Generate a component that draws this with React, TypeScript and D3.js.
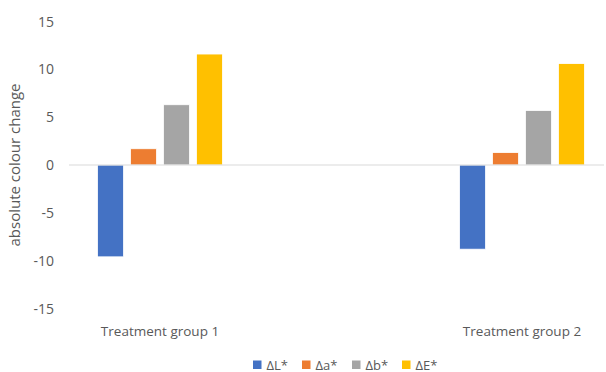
import React from "react";
import * as d3 from "d3";

const groups = ["Treatment group 1", "Treatment group 2"];
const series = ["ΔL*", "Δa*", "Δb*", "ΔE*"];
const colors = ["#4472C4", "#ED7D31", "#A5A5A5", "#FFC000"];
const group1Values = [-9.6, 1.7, 6.3, 11.6];
const group2Values = [-8.8, 1.3, 5.7, 10.6];
const yTicks = [15, 10, 5, 0, -5, -10, -15];

const W = 606;
const H = 372;
const FONT = "'Open Sans', sans-serif";
const TEXT = "#595959";

export default function App() {
  const values = [group1Values, group2Values];
  const y = d3.scaleLinear().domain([-15, 15]).range([308.5, 21.5]);
  const x0 = d3.scalePoint<string>().domain(groups).range([160, 522]);
  const x1 = d3.scaleBand<string>().domain(series).range([-62.5, 62.5]).paddingInner(0.21);
  const legendX = [253, 302, 352, 402];

  return (
    <div style={{ position: "absolute", left: 0, top: 0 }}>
      <svg width={W} height={H} style={{ display: "block", background: "#fff" }} fontFamily={FONT}>
        <rect width={W} height={H} fill="#fff" />
        {yTicks.map((t) => (
          <text key={t} x={54} y={y(t)} dy="0.36em" textAnchor="end" fontSize={14} fill={TEXT}>
            {t}
          </text>
        ))}
        <text
          transform={`translate(20,${y(0)}) rotate(-90)`}
          textAnchor="middle"
          fontSize={15}
          fill={TEXT}
        >
          absolute colour change
        </text>
        {groups.map((g, gi) =>
          series.map((s, si) => {
            const v = values[gi][si];
            const bx = (x0(g) as number) + (x1(s) as number);
            const top = Math.min(y(v), y(0));
            const h = Math.abs(y(v) - y(0));
            return (
              <rect
                key={g + s}
                x={bx}
                y={top}
                width={x1.bandwidth()}
                height={h}
                fill={colors[si]}
                stroke="#fff"
                strokeWidth={0.8}
              />
            );
          })
        )}
        <line x1={69} x2={604} y1={y(0)} y2={y(0)} stroke="#D9D9D9" strokeWidth={1} />
        {groups.map((g) => (
          <text key={g} x={x0(g) as number} y={336} textAnchor="middle" fontSize={13.5} fill={TEXT}>
            {g}
          </text>
        ))}
        {series.map((s, i) => (
          <g key={s} transform={`translate(${legendX[i]},0)`}>
            <rect x={0} y={360.5} width={8.5} height={8.5} fill={colors[i]} />
            <text x={13.5} y={369.5} fontSize={13} fill={TEXT}>
              {s}
            </text>
          </g>
        ))}
      </svg>
    </div>
  );
}
